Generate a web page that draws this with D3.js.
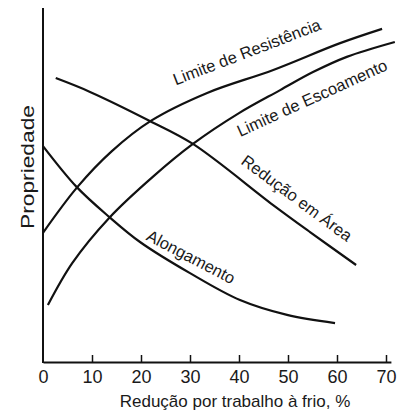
<!DOCTYPE html>
<html>
<head>
<meta charset="utf-8">
<script src="https://cdn.jsdelivr.net/npm/d3@7"></script>
<style>
  body { margin: 0; background: #fff; }
  text { font-family: "Liberation Sans", Arial, sans-serif; fill: #1a1a1a; }
</style>
</head>
<body>
<div id="chart"></div>
<script>
// x = redução por trabalho a frio (%), y = propriedade (relative units 0-100)
var xTicks = [0, 10, 20, 30, 40, 50, 60, 70];

var resistenciaX = [0, 7, 14, 22, 33.5, 47, 60.5, 69.2];
var resistenciaY = [36.5, 49.4, 59.5, 68.1, 76.0, 82.5, 90.0, 94.1];

var escoamentoX = [1, 6, 13.5, 22.4, 30.6, 40, 48.4, 55.1, 62, 71.8];
var escoamentoY = [16.1, 28.0, 40.7, 52.3, 61.6, 70.3, 76.8, 81.9, 86.2, 90.4];

var areaX = [2.6, 9.6, 21.8, 30.6, 46.9, 54.5, 63.9];
var areaY = [80.2, 76.3, 68.1, 61.6, 44.4, 36.7, 27.4];

var alongX = [0, 6.9, 13.5, 19.8, 30, 40.2, 49.8, 59.6];
var alongY = [61.0, 49.4, 41.0, 33.9, 25.1, 17.5, 13.3, 11.0];

var curveNames = ["Limite de Resistência", "Limite de Escoamento", "Redução em Área", "Alongamento"];

var width = 418, height = 412;
var margin = {left: 43, top: 8, bottom: 50};

var svg = d3.select('#chart').append('svg')
  .attr('width', width)
  .attr('height', height);

var x = d3.scaleLinear().domain([0, 71]).range([margin.left, margin.left + 71 * 4.9]);
var y = d3.scaleLinear().domain([0, 100]).range([height - margin.bottom, margin.top]);

function zip(xs, ys) {
  return xs.map(function (v, i) { return [v, ys[i]]; });
}

var series = [
  zip(resistenciaX, resistenciaY),
  zip(escoamentoX, escoamentoY),
  zip(areaX, areaY),
  zip(alongX, alongY)
];

var line = d3.line()
  .x(function (d) { return x(d[0]); })
  .y(function (d) { return y(d[1]); })
  .curve(d3.curveCatmullRom.alpha(0.5));

svg.selectAll('path.curve')
  .data(series)
  .enter().append('path')
    .attr('class', 'curve')
    .attr('d', line)
    .attr('fill', 'none')
    .attr('stroke', '#111')
    .attr('stroke-width', 2.2);

// axes
var xAxis = d3.axisBottom(x)
  .tickValues(xTicks)
  .tickSizeInner(-7)
  .tickSizeOuter(0)
  .tickPadding(8);

var gx = svg.append('g')
  .attr('transform', 'translate(0,' + y(0) + ')')
  .call(xAxis);
gx.select('.domain').attr('stroke', '#111').attr('stroke-width', 2);
gx.selectAll('.tick line').attr('stroke', '#111').attr('stroke-width', 1.5);
gx.selectAll('.tick').filter(function (d) { return d === 0; }).select('line').remove();
gx.selectAll('.tick text')
  .style('font-size', '18px')
  .attr('fill', '#1a1a1a');

svg.append('line')
  .attr('x1', x(0)).attr('x2', x(0))
  .attr('y1', y(100)).attr('y2', y(0) + 1)
  .attr('stroke', '#111')
  .attr('stroke-width', 2);

svg.append('text')
  .attr('x', 235)
  .attr('y', 407)
  .attr('text-anchor', 'middle')
  .style('font-size', '17px')
  .text('Redução por trabalho à frio, %');

svg.append('text')
  .attr('transform', 'translate(34,167) rotate(-90)')
  .attr('text-anchor', 'middle')
  .attr('textLength', 124)
  .attr('lengthAdjust', 'spacingAndGlyphs')
  .style('font-size', '18px')
  .text('Propriedade');

// curve labels: centre position (data units) and angle
var labelPos = [
  {x: 41.6, y: 87.6, a: -21},
  {x: 54.9, y: 74.6, a: -24.5},
  {x: 51.8, y: 46.3, a: 36.5},
  {x: 30.2, y: 29.7, a: 27.5}
];

svg.selectAll('text.lbl')
  .data(curveNames)
  .enter().append('text')
    .attr('class', 'lbl')
    .attr('text-anchor', 'middle')
    .attr('dy', '0.35em')
    .attr('transform', function (d, i) {
      var p = labelPos[i];
      return 'translate(' + x(p.x) + ',' + y(p.y) + ') rotate(' + p.a + ')';
    })
    .style('font-size', '16.5px')
    .text(function (d) { return d; });
</script>
</body>
</html>
